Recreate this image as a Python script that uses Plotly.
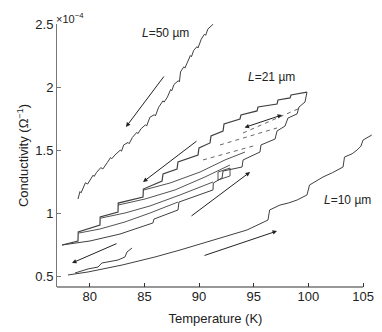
import plotly.graph_objects as go

# L = 50 um trace (conductivity in units of 1e-4 ohm^-1)
l50_temp = [78.92, 79.1, 79.2, 79.38, 79.6, 79.8, 80.0, 80.3, 80.4, 80.6, 81.0, 81.2, 81.6,
            81.9, 82.0, 82.3, 82.8, 82.9, 83.1, 83.5, 83.6, 83.9, 84.3, 84.4, 84.7, 85.1,
            85.2, 85.5, 85.9, 86.0, 86.3, 86.7, 86.8, 87.1, 87.4, 87.5, 87.7, 88.1, 88.2,
            88.3, 88.6, 88.7, 88.9, 89.2, 89.3, 89.5, 89.8, 89.9, 90.2, 90.5, 90.6, 90.8,
            91.3]
l50_cond = [1.111, 1.17, 1.16, 1.2, 1.24, 1.23, 1.26, 1.30, 1.29, 1.32, 1.36, 1.35, 1.40,
            1.44, 1.43, 1.46, 1.50, 1.49, 1.54, 1.56, 1.55, 1.60, 1.64, 1.63, 1.67, 1.70,
            1.69, 1.76, 1.78, 1.77, 1.84, 1.89, 1.88, 1.92, 1.98, 1.97, 2.02, 2.05, 2.04,
            2.12, 2.16, 2.15, 2.19, 2.25, 2.24, 2.29, 2.32, 2.31, 2.38, 2.42, 2.41, 2.46,
            2.50]

# L = 21 um: upper (warming) staircase
l21_up_temp = [77.46, 78.92, 78.94, 80.93, 80.95, 82.58, 82.6, 84.87, 84.9, 86.61, 86.7,
               87.98, 88.07, 89.9, 89.99, 91.0, 91.09, 92.19, 92.28, 93.74, 93.83, 95.3,
               95.39, 97.13, 97.22, 98.32, 98.41, 99.87]
l21_up_cond = [0.746, 0.778, 0.849, 0.905, 0.968, 1.008, 1.079, 1.127, 1.19, 1.254, 1.31,
               1.349, 1.405, 1.46, 1.516, 1.556, 1.611, 1.651, 1.706, 1.746, 1.778, 1.81,
               1.841, 1.865, 1.897, 1.913, 1.937, 1.96]

# L = 21 um: lower staircase
l21_lo_temp = [77.46, 80.02, 82.76, 85.78, 85.87, 88.07, 88.16, 91.27, 91.3, 92.1, 92.19,
               93.93, 94.02, 95.57, 95.66, 96.95, 97.13, 97.86, 98.13, 98.96, 99.14, 99.69,
               99.87]
l21_lo_cond = [0.746, 0.778, 0.833, 0.921, 0.952, 1.024, 1.087, 1.183, 1.238, 1.278, 1.333,
               1.365, 1.421, 1.484, 1.540, 1.587, 1.651, 1.690, 1.754, 1.786, 1.841, 1.881,
               1.96]

# L = 21 um: smooth cooling curves
cool1_temp = [79.01, 80.93, 83.22, 85.51, 88.07]
cool1_cond = [0.841, 0.873, 0.929, 1.0, 1.087]
cool2_temp = [81.03, 83.22, 85.51, 88.25, 91.27]
cool2_cond = [0.960, 1.0, 1.056, 1.143, 1.246]
cool3_temp = [82.58, 85.05, 87.8, 90.54, 92.83]
cool3_cond = [1.063, 1.111, 1.183, 1.286, 1.381]
cool4_temp = [84.96, 87.34, 90.08, 92.37, 94.2]
cool4_cond = [1.183, 1.238, 1.325, 1.421, 1.484]
loop_temp = [91.73, 91.73, 92.83, 92.83, 91.73]
loop_cond = [1.262, 1.325, 1.357, 1.294, 1.262]

# L = 21 um: dashed segments
dash1_temp = [90.36, 95.3]
dash1_cond = [1.421, 1.540]
dash2_temp = [91.91, 97.13]
dash2_cond = [1.540, 1.675]
dash3_temp = [94.02, 99.23]
dash3_cond = [1.635, 1.833]

# L = 10 um main trace
l10_temp = [78.0, 79.84, 82.95, 85.97, 88.25, 91.27, 94.38, 96.3, 96.45, 97.4, 98.2, 98.96,
            99.87, 100.1, 100.6, 101.34, 102.2, 103.17, 103.3, 104.0, 104.45, 104.8, 105.0,
            105.4, 105.8]
l10_cond = [0.508, 0.532, 0.587, 0.651, 0.706, 0.786, 0.865, 0.944, 1.024, 1.063, 1.08, 1.103,
            1.143, 1.222, 1.25, 1.286, 1.32, 1.365, 1.444, 1.47, 1.5, 1.53, 1.579, 1.60, 1.619]

# short low-temperature trace
low_temp = [78.65, 79.84, 80.75, 81.1, 82.58, 83.22, 83.4, 83.86]
low_cond = [0.524, 0.556, 0.571, 0.603, 0.627, 0.651, 0.690, 0.722]

# arrows: (tail T, tail C, head T, head C, double)
arrows = [
    (86.88, 2.095, 83.31, 1.683, False),
    (89.9, 1.579, 84.87, 1.246, False),
    (89.17, 0.968, 94.66, 1.325, False),
    (82.58, 0.762, 78.37, 0.603, False),
    (90.36, 0.659, 97.13, 0.857, False),
    (94.02, 1.675, 97.59, 1.778, True),
]

labels = [
    (86.97, 2.43, "<i>L</i>=50 µm"),
    (96.58, 2.08, "<i>L</i>=21 µm"),
    (103.6, 1.10, "<i>L</i>=10 µm"),
]

x_ticks = [80, 85, 90, 95, 100, 105]
y_ticks = [0.5, 1, 1.5, 2, 2.5]

ink = "#404040"
font_family = "Liberation Sans, Arial, sans-serif"

fig = go.Figure()


def add_line(xs, ys, width=1.0, dash="solid"):
    fig.add_trace(
        go.Scatter(
            x=xs, y=ys, mode="lines",
            line=dict(color=ink, width=width, dash=dash),
            showlegend=False, hoverinfo="skip",
        )
    )


add_line(l50_temp, l50_cond)
add_line(l21_up_temp, l21_up_cond, width=1.2)
add_line(l21_lo_temp, l21_lo_cond, width=1.0)
for xs, ys in [(cool1_temp, cool1_cond), (cool2_temp, cool2_cond),
               (cool3_temp, cool3_cond), (cool4_temp, cool4_cond), (loop_temp, loop_cond)]:
    add_line(xs, ys, width=0.9)
for xs, ys in [(dash1_temp, dash1_cond), (dash2_temp, dash2_cond), (dash3_temp, dash3_cond)]:
    add_line(xs, ys, width=0.8, dash="4px,4px")
add_line(l10_temp, l10_cond)
add_line(low_temp, low_cond)

for t0, c0, t1, c1, double in arrows:
    fig.add_annotation(
        x=t1, y=c1, ax=t0, ay=c0, xref="x", yref="y", axref="x", ayref="y",
        showarrow=True, arrowhead=2, arrowsize=0.9, arrowwidth=1,
        arrowcolor="#222", arrowside="end+start" if double else "end",
        startarrowhead=2, startarrowsize=0.9, text="",
    )

for t, c, text in labels:
    fig.add_annotation(
        x=t, y=c, xref="x", yref="y", text=text, showarrow=False,
        font=dict(size=12, color="#222", family=font_family),
    )

fig.add_annotation(
    x=0, y=1.0, xref="paper", yref="paper", xanchor="left", yanchor="bottom",
    text="×10<sup>−4</sup>", showarrow=False, yshift=-3, xshift=-3,
    font=dict(size=11, color="#222", family=font_family),
)

# bottom axis line stops at 105 K while the data runs slightly past it
fig.add_shape(type="line", xref="x", yref="paper", x0=77, x1=105, y0=0, y1=0,
              line=dict(color="#333", width=1.2))

# the page body adds an 8 px margin, so the figure is 8 px smaller than the window
fig.update_layout(
    width=374, height=324,
    margin=dict(l=49, r=8, t=16, b=45),
    paper_bgcolor="white", plot_bgcolor="white",
    font=dict(family=font_family, size=13, color="#222"),
    xaxis=dict(
        range=[77, 106], showgrid=False, zeroline=False, showline=False,
        tickvals=x_ticks, ticks="inside", ticklen=4, tickcolor="#333",
        title=dict(text="Temperature (K)", standoff=10, font=dict(size=13)),
    ),
    yaxis=dict(
        range=[0.4127, 2.5], showgrid=False, zeroline=False, showline=True,
        linecolor="#777", linewidth=1, tickvals=y_ticks,
        ticktext=["0.5", "1", "1.5", "2", "2.5"],
        ticks="inside", ticklen=4, tickcolor="#777",
        title=dict(text="Conductivity (Ω<sup>−1</sup>)", standoff=3, font=dict(size=13)),
    ),
)

fig.write_html("out.html")
